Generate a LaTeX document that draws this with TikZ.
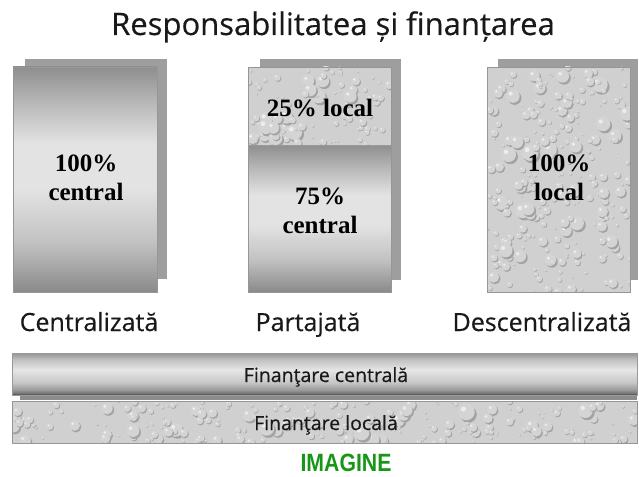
\documentclass[tikz,border=0pt]{standalone}
\usepackage{fontspec}
\setmainfont{Liberation Serif}
\newfontfamily\comicfont[FakeBold=0.4]{Open Sans}
\newfontfamily\armfont[FakeStretch=0.85]{Liberation Sans}
\definecolor{imgreen}{RGB}{24,150,24}
\definecolor{shadowgray}{RGB}{158,158,158}
\definecolor{texgray}{RGB}{208,208,208}
\definecolor{edgegray}{RGB}{150,150,150}
\pgfdeclareverticalshading{barshade}{100bp}{%
  color(0bp)=(black!72); color(25bp)=(black!72); color(27bp)=(black!55);
  color(31bp)=(black!40); color(40bp)=(black!22); color(55bp)=(black!10);
  color(67bp)=(black!24); color(75bp)=(black!42); color(100bp)=(black!42)}
\pgfdeclareverticalshading{boxshade}{100bp}{%
  color(0bp)=(black!46); color(25bp)=(black!46); color(36bp)=(black!24);
  color(48bp)=(black!11); color(58bp)=(black!11); color(66bp)=(black!26);
  color(75bp)=(black!44); color(100bp)=(black!44)}
\newcommand\mydrops[5]{%
  \begin{scope}
    \clip (#1,#2) rectangle (#3,#4);
    \fill[texgray] (#1,#2) rectangle (#3,#4);
    \foreach \k in {1,...,#5}{
      \pgfmathsetmacro\dx{#1+rnd*(#3-#1)}
      \pgfmathsetmacro\dy{#2+rnd*(#4-#2)}
      \pgfmathsetmacro\dr{1.2+rnd*rnd*7.5}
      \fill[black!36] (\dx+0.25*\dr,\dy+0.3*\dr) circle[radius=\dr];
      \fill[black!17] (\dx,\dy) circle[radius=\dr];
      \fill[black!7] (\dx-0.35*\dr,\dy-0.35*\dr) circle[radius=0.3*\dr];
    }
  \end{scope}}
\tikzset{
  backrect/.style={fill=shadowgray, draw=none},
  frontedge/.style={draw=edgegray, line width=0.8pt},
  boldtxt/.style={font=\fontsize{25}{29}\selectfont\bfseries, align=center, inner sep=0pt},
  comictxt/.style={font=\comicfont\fontsize{25}{30}\selectfont, text=black!90, inner sep=0pt, anchor=base},
  bartxt/.style={font=\comicfont\fontsize{19.5}{23}\selectfont, text=black!90, inner sep=0pt, anchor=base},
}
\begin{document}
\begin{tikzpicture}[x=1pt, y=-1pt]
\pgfmathsetseed{7}
\useasboundingbox (0,0) rectangle (639,476);
\fill[white] (0,0) rectangle (639,476);

% title
\node[font=\comicfont\fontsize{31}{36}\selectfont, text=black!90, inner sep=0pt, anchor=base] (title) at (333,35) {Responsabilitatea și finanțarea};

% left box: centralized
\fill[backrect] (25,59) rectangle (167,279);
\shade[shading=boxshade] (13,67) rectangle (157,292);
\draw[frontedge] (13,67) rectangle (157,292);
\node[boldtxt] (ltxt) at (86,178) {100\%\\central};

% middle box: shared
\fill[backrect] (260,59) rectangle (401,280);
\mydrops{248}{67}{391}{145}{90}
\shade[shading=boxshade] (248,145) rectangle (391,292);
\draw[frontedge] (248,67) rectangle (391,292);
\draw[black!40, line width=0.6pt] (248,145) -- (391,145);
\node[boldtxt] (mtop) at (320,108) {25\% local};
\node[boldtxt] (mbot) at (320,211) {75\%\\central};

% right box: decentralized
\fill[backrect] (498,59) rectangle (638,280);
\mydrops{487}{67}{630}{292}{260}
\draw[frontedge] (487,67) rectangle (630,292);
\node[boldtxt] (rtxt) at (559,178) {100\%\\local};

% labels
\node[comictxt] (lab1) at (89,331) {Centralizată};
\node[comictxt] (lab2) at (308,331) {Partajată};
\node[comictxt] (lab3) at (542,331) {Descentralizată};

% central financing bar
\fill[black!45] (20,392) rectangle (637,400);
\shade[shading=barshade] (12,353) rectangle (637,395);
\draw[black!40, line width=0.6pt] (12,353) rectangle (637,395);
\node[bartxt] (bar1) at (326,382) {Finanţare centrală};

% local financing bar
\mydrops{12}{401}{637}{443}{230}
\draw[edgegray, line width=0.8pt] (12,401) rectangle (637,443);
\node[bartxt] (bar2) at (326,430) {Finanţare locală};

% caption
\node[font=\armfont\bfseries\fontsize{25}{29}\selectfont, text=imgreen, inner sep=0pt, anchor=base] (cap) at (346,471) {IMAGINE};
\end{tikzpicture}
\end{document}
